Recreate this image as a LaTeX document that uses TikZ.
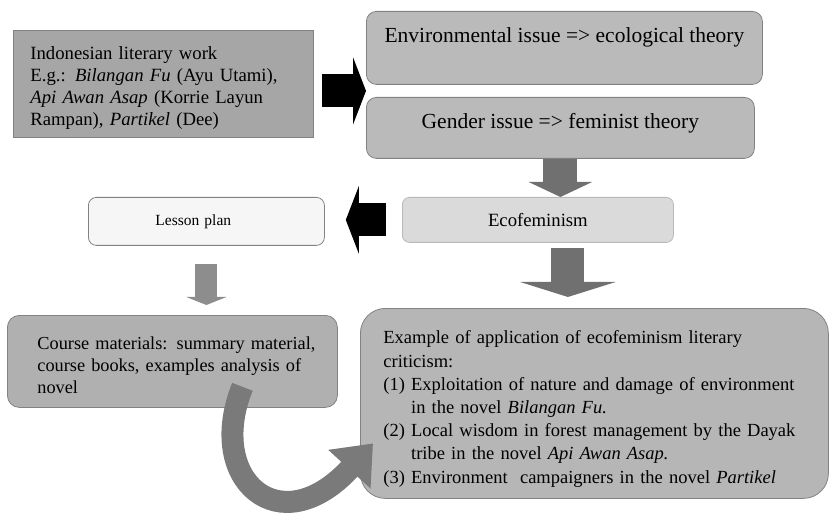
\documentclass[tikz,border=0pt]{standalone}
\usepackage{fontspec}
\setmainfont{Liberation Serif}
\usetikzlibrary{arrows.meta,calc,positioning,shapes}
\definecolor{framegray}{RGB}{130,130,130}
\definecolor{indogray}{RGB}{166,166,166}
\definecolor{issuegray}{RGB}{186,186,186}
\definecolor{ecogray}{RGB}{218,218,218}
\definecolor{plangray}{RGB}{246,246,246}
\definecolor{coursegray}{RGB}{176,176,176}
\definecolor{examplegray}{RGB}{182,182,182}
\definecolor{arrowgray}{RGB}{112,112,112}
\definecolor{curvegray}{RGB}{122,122,122}

\begin{document}
\begin{tikzpicture}[x=1pt,y=-1pt,inner sep=0pt,
font=\fontsize{18.7}{22}\selectfont]
\tikzstyle{box}=[draw=framegray,line width=0.8pt,anchor=north west]
\tikzstyle{rbox}=[box,rounded corners=10pt]
\tikzstyle{block}=[black,line width=33pt,-{Triangle[length=13pt,width=67pt]}]
\tikzstyle{down}=[arrowgray,line width=34pt,-{Triangle[length=15pt,width=63pt]}]

\useasboundingbox (0,0) rectangle (829,518);

\node[box,fill=indogray,minimum width=300pt,minimum height=107pt,text width=266pt,align=left] (indo) at (13,30)
{\rule{0pt}{22pt}Indonesian literary work\\E.g.: \textit{Bilangan Fu} (Ayu Utami),\\\textit{Api Awan Asap} (Korrie Layun\\Rampan), \textit{Partikel} (Dee)};
\node[rbox,fill=issuegray,minimum width=396pt,text height=31pt,text depth=42pt,
font=\fontsize{21.5}{24}\selectfont] (env) at (366,11) {Environmental issue => ecological theory};
\node[rbox,fill=issuegray,minimum width=388pt,text height=31pt,text depth=30pt,
font=\fontsize{21.5}{24}\selectfont] (gender) at (366,97) {Gender issue => feminist theory};
\node[rbox,fill=ecogray,draw=ecogray!85!black,rounded corners=7pt,minimum width=271pt,minimum height=45pt] (eco) at (402,197) {Ecofeminism};
\node[rbox,fill=plangray,rounded corners=8pt,minimum width=236pt,minimum height=48pt,text width=102pt,align=left,
font=\fontsize{15.5}{18}\selectfont] (lesson) at (88,197) {Lesson plan};
\node[rbox,fill=coursegray,rounded corners=12pt,minimum width=330pt,minimum height=92pt,text width=270pt,align=left,
font=\fontsize{18.3}{22}\selectfont] (course) at (7,315)
{\rule{0pt}{20pt}\mbox{Course materials: summary material,}\\\mbox{course books, examples analysis of}\\novel};
\node[rbox,fill=examplegray,rounded corners=25pt,minimum width=468pt,minimum height=190pt,text width=422pt,align=left,
font=\fontsize{18.5}{23.2}\selectfont] (ex) at (360,308)
{\rule{0pt}{24pt}\mbox{Example of application of ecofeminism literary}\\criticism:\\\mbox{(1) Exploitation of nature and damage of environment}\\\mbox{\phantom{(1) }in the novel \textit{Bilangan Fu.}}\\\mbox{(2) Local wisdom in forest management by the Dayak}\\\mbox{\phantom{(2) }tribe in the novel \textit{Api Awan Asap.}}\\\mbox{(3) Environment\ \ campaigners in the novel \textit{Partikel}}};

% block arrows
\coordinate (gap) at ($(env.south west)!.5!(gender.north west)$);
\draw[block,shorten <=8pt] (indo.east |- gap) -- (gap);
\draw[block,shorten <=16pt,shorten >=21pt] (eco.west) -- (eco.west -| lesson.east);
\draw[down] (gender.south) -- (gender.south |- eco.north);
\coordinate (eb) at ([xshift=30pt]eco.south);
\draw[down,line width=33pt,-{Triangle[length=15pt,width=95pt]},shorten <=5pt,shorten >=11pt] (eb) -- (eb |- ex.north);
\draw[down,arrowgray!80!white,line width=22pt,-{Triangle[length=8pt,width=40pt]},shorten <=18pt,shorten >=10pt]
(lesson.south) -- (lesson.south |- course.north);

% curved arrow
\coordinate (cstart) at ([xshift=70pt,yshift=21pt]course.south);
\coordinate (ctip) at ([xshift=13pt,yshift=-40pt]ex.west);
\draw[curvegray,line width=22pt,-{Triangle[length=35pt,width=55pt]}] (cstart) .. controls (205,480) and (280,545) .. (ctip);
\end{tikzpicture}
\end{document}
